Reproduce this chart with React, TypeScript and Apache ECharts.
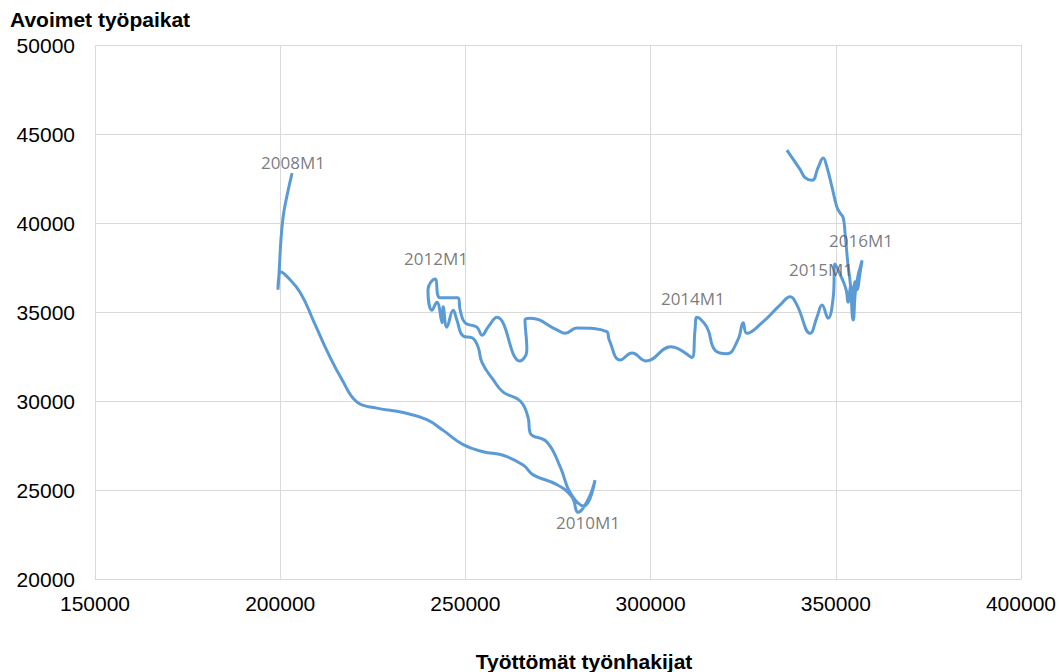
import React, { useEffect, useRef } from "react";
import * as echarts from "echarts";

// Unemployed jobseekers (x) and open vacancies (y), monthly path from 2008M1 onward
const unemployed = [
  203200, 201600, 200800, 200200, 199700, 199400, 200200, 201800, 205400, 209100,
  212900, 216700, 220700, 226100, 233200, 239600, 244000, 249400, 254800, 260200,
  265600, 268300, 274700, 278800, 280400,
  283100, 285000, 282000, 278300, 275600, 272000, 267500, 266900, 264800, 260200,
  257500, 254500, 253400, 251800, 249400, 247700, 246700, 245000, 244000, 243700,
  242300, 241000, 239900, 241800,
  243200, 248000, 248600, 249900, 253100, 254500, 256100, 258500, 264700, 266600,
  266100, 267500, 274700, 276900, 280100, 288200, 288800, 291800, 295000, 298800,
  305500, 311200, 312000, 312500,
  315200, 317400, 320600, 323600, 325000, 326000, 330100, 335000, 337700, 339500,
  343100, 344900, 346300,
  347900, 349300, 349800, 351200, 352800, 353300, 354100, 354700, 355200, 355700,
  356600, 357100,
  355500, 354700, 353900, 353300, 352500, 352000, 351200, 350300, 349000, 347600,
  346600, 345200, 343600, 341700, 340400, 336800,
];

const vacancies = [
  42800, 41300, 40350, 39050, 37200, 36250, 37250, 37000, 36100, 34450,
  32700, 31200, 29950, 29600, 29350, 28950, 28350, 27550, 27150, 26950,
  26400, 25850, 25300, 24600, 23750,
  24450, 25550, 24100, 24850, 26300, 27700, 28200, 29100, 30000, 30500,
  31200, 32150, 33050, 33550, 33650, 34550, 35100, 34150, 35300, 34400,
  35550, 35100, 36250, 36850,
  35800, 35800, 35100, 34400, 34150, 33700, 34150, 34700, 32250, 32850,
  34550, 34650, 34000, 33800, 34100, 33900, 33450, 32300, 32700, 32250,
  33050, 32450, 34000, 34700,
  34150, 32850, 32650, 33450, 34400, 33800, 34400, 35400, 35850, 35400,
  33800, 34700, 35400,
  34650, 35800, 37700, 37100, 36250, 35550, 36500, 35650, 36700, 36250,
  37250, 37900,
  36500, 34550, 36650, 37650, 39450, 40300, 40550, 40900, 42000, 43150,
  43650, 43100, 42400, 42550, 43000, 44100,
];

// Points that carry a period label
const labelIndex = [0, 24, 48, 72, 85, 97];
const labelText = ["2008M1", "2010M1", "2012M1", "2014M1", "2015M1", "2016M1"];

const xTicks = [150000, 200000, 250000, 300000, 350000, 400000];
const yTicks = [20000, 25000, 30000, 35000, 40000, 45000, 50000];

const xTitle = "Työttömät työnhakijat";
const yTitle = "Avoimet työpaikat";

// Pixel nudges for each period label, relative to its point
const labelOffsets: number[][] = [
  [1, -11],
  [10, 10],
  [1, -21],
  [-4, -19],
  [-1, -35],
  [-1, -20],
];

const AXIS_FONT = "'Liberation Sans', Arial, sans-serif";
const LABEL_FONT = "'Open Sans', 'Noto Sans', sans-serif";
const LINE_BLUE = "#5b9bd5";
const GRID_GRAY = "#d9d9d9";

export default function App() {
  const ref = useRef<HTMLDivElement>(null);

  useEffect(() => {
    document.body.style.margin = "0";
    if (!ref.current) return;
    const chart = echarts.init(ref.current, undefined, { renderer: "svg" });

    const path = unemployed.map((x, i) => [x, vacancies[i]]);
    const labelled = labelIndex.map((idx, k) => ({
      value: [unemployed[idx], vacancies[idx]],
      label: {
        show: true,
        formatter: labelText[k],
        position: "inside",
        offset: labelOffsets[k],
      },
    }));

    const plain = (v: number) => String(v);

    chart.setOption({
      animation: false,
      backgroundColor: "#ffffff",
      grid: { left: 95, top: 45, right: 38, bottom: 93 },
      xAxis: {
        type: "value",
        min: xTicks[0],
        max: xTicks[xTicks.length - 1],
        interval: xTicks[1] - xTicks[0],
        axisLine: { show: true, lineStyle: { color: GRID_GRAY, width: 1 } },
        axisTick: { show: false },
        splitLine: { show: true, lineStyle: { color: GRID_GRAY, width: 1 } },
        axisLabel: {
          color: "#000000",
          fontSize: 21,
          fontFamily: AXIS_FONT,
          margin: 14,
          formatter: plain,
        },
      },
      yAxis: {
        type: "value",
        min: yTicks[0],
        max: yTicks[yTicks.length - 1],
        interval: yTicks[1] - yTicks[0],
        axisLine: { show: false },
        axisTick: { show: false },
        splitLine: { show: true, lineStyle: { color: GRID_GRAY, width: 1 } },
        axisLabel: {
          color: "#000000",
          fontSize: 21,
          fontFamily: AXIS_FONT,
          margin: 20,
          formatter: plain,
        },
      },
      graphic: [
        {
          type: "text",
          left: 10,
          top: 9,
          style: {
            text: yTitle,
            fill: "#000000",
            fontSize: 21,
            fontWeight: "bold",
            fontFamily: AXIS_FONT,
          },
        },
        {
          type: "text",
          x: 584,
          y: 661,
          style: {
            text: xTitle,
            fill: "#000000",
            fontSize: 21,
            fontWeight: "bold",
            fontFamily: AXIS_FONT,
            align: "center",
            verticalAlign: "middle",
          },
        },
      ],
      series: [
        {
          type: "line",
          data: path,
          smooth: 0.45,
          showSymbol: false,
          symbol: "none",
          lineStyle: { color: LINE_BLUE, width: 3 },
          z: 2,
        },
        {
          type: "scatter",
          data: labelled,
          symbolSize: 1,
          itemStyle: { color: "rgba(0,0,0,0)" },
          label: {
            color: "#595959",
            fontSize: 17,
            fontFamily: LABEL_FONT,
            align: "center",
            verticalAlign: "middle",
          },
          z: 3,
        },
      ],
    });

    return () => chart.dispose();
  }, []);

  return <div ref={ref} style={{ width: 1059, height: 672 }} />;
}
